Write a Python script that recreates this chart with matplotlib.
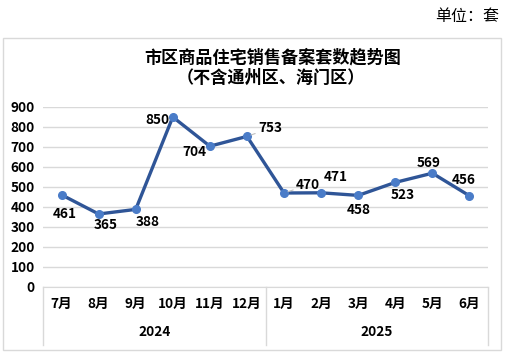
import matplotlib
matplotlib.use('Agg')
import matplotlib.pyplot as plt
from matplotlib.patches import Rectangle
from matplotlib.lines import Line2D

plt.rcParams['font.family'] = ['Noto Sans CJK SC', 'DejaVu Sans']

months = ['7月', '8月', '9月', '10月', '11月', '12月', '1月', '2月', '3月', '4月', '5月', '6月']
years = ['2024', '2025']
year_sizes = [6, 6]
values = [461, 365, 388, 850, 704, 753, 470, 471, 458, 523, 569, 456]
# label offsets in pixels (dx, dy)
label_offsets = [(3, -19), (7, -11), (12, -13), (-15, -3), (-15, -6), (23, 8),
                 (24, 8), (15, 16), (1, -15), (7, -13), (-4, 10), (-6, 16)]
leader = [False, False, False, False, False, True, True, False, False, False, False, False]

W, H = 506, 355
fig = plt.figure(figsize=(W / 100, H / 100), dpi=100)

def fx(px):
    return px / W

def fy(py):
    return 1 - py / H

# outer chart frame
fig.patches.append(Rectangle((fx(3), fy(350)), fx(498), 312 / H, transform=fig.transFigure,
                             fill=False, edgecolor='#D9D9D9', linewidth=1))

fig.text(fx(499), fy(17), '单位：套', ha='right', va='center', fontsize=11.5)
fig.text(fx(273), fy(57), '市区商品住宅销售备案套数趋势图', ha='center', va='center',
         fontsize=12.3, fontweight='bold')
fig.text(fx(271), fy(78), '（不含通州区、海门区）', ha='center', va='center',
         fontsize=12.3, fontweight='bold')

left, right, top, bottom = 43, 488, 107, 287
ax = fig.add_axes([fx(left), fy(bottom), (right - left) / W, (bottom - top) / H])

x = list(range(len(months)))
ax.plot(x, values, color='#2F5597', linewidth=2.4, zorder=3)
ax.plot(x, values, 'o', color='#4A7CC8', markersize=5.5, zorder=4)

for i, v in enumerate(values):
    dx, dy = label_offsets[i]
    props = None
    if leader[i]:
        props = dict(arrowstyle='-', color='#BFBFBF', lw=0.8, shrinkA=0, shrinkB=3)
    ax.annotate(str(v), (i, v), xytext=(dx, dy), textcoords='offset pixels',
                ha='center', va='center', fontsize=9.8, fontweight='bold',
                arrowprops=props, zorder=5)

ax.set_xlim(-0.5, len(months) - 0.5)
ax.set_ylim(0, 900)
ax.set_yticks(range(0, 1000, 100))
ax.grid(axis='y', color='#D9D9D9', linewidth=1)
ax.set_axisbelow(True)
for s in ['top', 'right', 'left']:
    ax.spines[s].set_visible(False)
ax.spines['bottom'].set_color('#D9D9D9')
ax.tick_params(axis='y', length=0, labelsize=9.8, pad=6)
for lab in ax.get_yticklabels():
    lab.set_fontweight('bold')
ax.set_xticks([])

# multi-level category axis
trans = ax.get_xaxis_transform()
for i, m in enumerate(months):
    ax.text(i, -17 / (bottom - top), m, transform=trans, ha='center', va='center',
            fontsize=9.8, fontweight='bold', clip_on=False)
start = 0
bounds = [-0.5]
for yname, n in zip(years, year_sizes):
    ax.text(start + (n - 1) / 2, -45 / (bottom - top), yname, transform=trans,
            ha='center', va='center', fontsize=9.8, fontweight='bold', clip_on=False)
    start += n
    bounds.append(start - 0.5)
for b in bounds:
    ax.add_line(Line2D([b, b], [0, -58 / (bottom - top)], transform=trans,
                       color='#D9D9D9', linewidth=1, clip_on=False))

fig.savefig('out.png', dpi=100)
